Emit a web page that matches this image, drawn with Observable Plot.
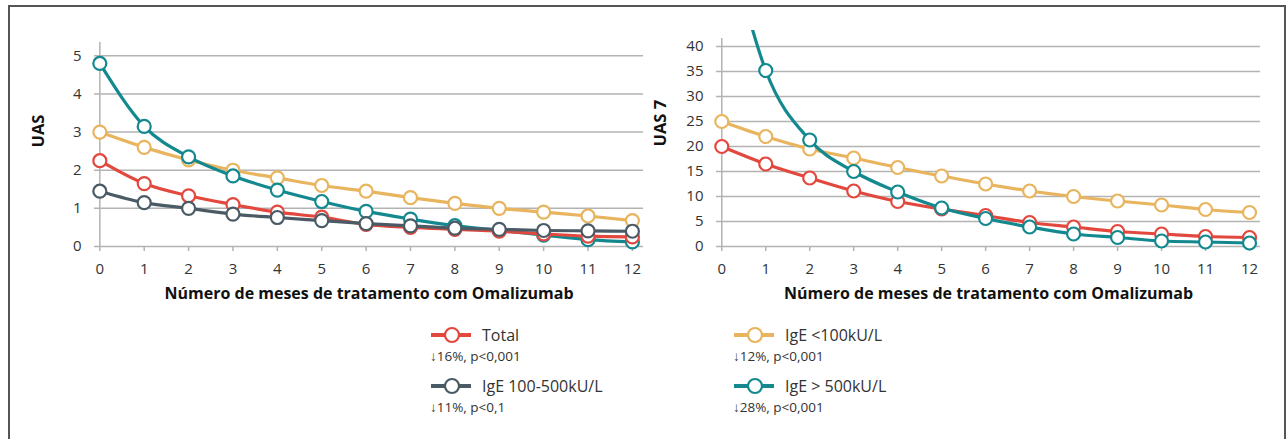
<!DOCTYPE html>
<html><head><meta charset="utf-8">
<script src="https://cdn.jsdelivr.net/npm/d3@7"></script>
<script src="https://cdn.jsdelivr.net/npm/@observablehq/plot@0.6"></script>
<style>
body{margin:0;background:#fff;font-family:"Open Sans",sans-serif;}
#wrap{position:relative;width:1288px;height:439px;overflow:hidden;background:#fff;}
#frame{position:absolute;left:8px;top:5px;width:1278px;height:470px;border:2px solid #555;box-sizing:border-box;}
#left{position:absolute;left:0;top:0}
#right{position:absolute;left:640px;top:0}
.item{position:absolute;display:flex;align-items:center;font-size:16px;color:#333;white-space:nowrap}
.item svg{margin-right:10px}
.stat{position:absolute;font-size:13.5px;color:#333;white-space:nowrap}
</style></head>
<body>
<div id="wrap">
  <div id="frame"></div>
  <div id="left"></div>
  <div id="right"></div>
  <div id="legend"></div>
</div>
<script>
// ---- data ----
const months = [0,1,2,3,4,5,6,7,8,9,10,11,12];
const seriesNames = ["Total", "IgE <100kU/L", "IgE 100-500kU/L", "IgE > 500kU/L"];
const seriesColors = ["#e2483e", "#e8b45e", "#4b5b66", "#13898f"];
const seriesStats = ["↓16%, p<0,001", "↓12%, p<0,001", "↓11%, p<0,1", "↓28%, p<0,001"];

// UAS (left chart)
const uasTotal = [2.25,1.65,1.33,1.1,0.9,0.77,0.58,0.5,0.45,0.4,0.33,0.27,0.25];
const uasLow   = [3.0,2.6,2.27,2.0,1.8,1.6,1.45,1.28,1.13,1.0,0.9,0.8,0.68];
const uasMid   = [1.45,1.15,1.0,0.85,0.76,0.68,0.6,0.54,0.48,0.45,0.42,0.41,0.4];
const uasHigh  = [4.8,3.15,2.35,1.85,1.48,1.18,0.92,0.72,0.55,0.42,0.3,0.18,0.12];

// UAS 7 (right chart)
const uas7Total = [20,16.5,13.7,11.1,9.0,7.5,6.2,4.8,3.9,3.0,2.5,2.0,1.8];
const uas7Low   = [25,22,19.5,17.7,15.8,14.1,12.5,11.1,10.0,9.1,8.3,7.4,6.8];
const uas7High  = [68,35.2,21.3,15.0,10.9,7.7,5.6,3.9,2.5,1.8,1.1,0.9,0.7];

const yTicksL = [0,1,2,3,4,5];
const yTicksR = [0,5,10,15,20,25,30,35,40];
const yLabelL = "UAS";
const yLabelR = "UAS 7";
const xLabel = "Número de meses de tratamento com Omalizumab";

function toRows(vals, s) { return vals.map((v,i)=>({month: months[i], value: v, series: s})); }

const leftSeries = [ // draw order
  toRows(uasLow, 1), toRows(uasHigh, 3), toRows(uasTotal, 0), toRows(uasMid, 2)
];
const rightSeries = [
  toRows(uas7Low, 1), toRows(uas7Total, 0), toRows(uas7High, 3)
];

const grid = "#b3b3b3";

function seriesMarks(list, clip, yMax) {
  const marks = [];
  for (const rows of list) {
    const c = seriesColors[rows[0].series];
    marks.push(Plot.line(rows, {x: "month", y: "value", stroke: c, strokeWidth: 3.2, curve: "monotone-x", clip}));
    marks.push(Plot.dot(rows.filter(d => d.value <= yMax), {x: "month", y: "value", r: 6.5, fill: "white", stroke: c, strokeWidth: 2.2}));
  }
  return marks;
}

function makeChart(opts) {
  return Plot.plot({
    width: opts.width, height: 310,
    marginLeft: opts.ml, marginRight: opts.mr, marginTop: opts.mt, marginBottom: 64,
    x: {domain: [-0.12, 12.25]},
    y: {domain: opts.ydomain},
    style: {fontFamily: "'Open Sans', sans-serif", fontSize: "15px", color: "#333", background: "transparent"},
    marks: [
      Plot.ruleY(opts.yticks, {stroke: grid, strokeWidth: 1.5}),
      Plot.ruleX([0], {stroke: grid, strokeWidth: 1.5, y1: () => 0, y2: () => opts.axisTop}),
      Plot.axisY({ticks: opts.yticks, tickFormat: d3.format("d"), tickSize: 0, tickPadding: 13, label: null, fontSize: 15}),
      Plot.axisX({ticks: months, tickFormat: d3.format("d"), tickSize: 5, tickPadding: 12, label: null, stroke: grid, strokeWidth: 1.5, fill: "#333", fontSize: 15}),
      ...seriesMarks(opts.series, opts.clip, opts.ydomain[1]),
      Plot.text([xLabel], {frameAnchor: "bottom", dy: 52, fontWeight: "bold", fontSize: 16, fill: "#111"}),
      Plot.text([opts.ylabel], {frameAnchor: "left", dx: -56, dy: opts.ldy, rotate: -90, fontWeight: "bold", fontSize: 16.5, fill: "#111"})
    ]
  });
}

document.getElementById("left").append(makeChart({
  width: 650, ml: 94, mr: 7, mt: 42, ydomain: [0, 5.35], axisTop: 5.35,
  yticks: yTicksL, series: leftSeries, clip: false, ylabel: yLabelL, ldy: 3
}));
document.getElementById("right").append(makeChart({
  width: 648, ml: 76, mr: 28, mt: 30, ydomain: [0, 43.2], axisTop: 41.6,
  yticks: yTicksR, series: rightSeries, clip: true, ylabel: yLabelR, ldy: 8
}));

// ---- legend ----
const legendPos = [ // [x, y] for item, per series index
  [430, 335], [733, 335], [430, 386], [733, 386]
];
const legend = document.getElementById("legend");
seriesNames.forEach((name, i) => {
  const [x, y] = legendPos[i];
  const item = document.createElement("div");
  item.className = "item";
  item.style.left = x + "px";
  item.style.top = (y - 11) + "px";
  const c = seriesColors[i];
  item.innerHTML = `<svg width="42" height="22"><line x1="1" y1="11" x2="41" y2="11" stroke="${c}" stroke-width="4"/><circle cx="22" cy="11" r="7" fill="white" stroke="${c}" stroke-width="2.2"/></svg><span>${name}</span>`;
  legend.append(item);
  const st = document.createElement("div");
  st.className = "stat";
  st.style.left = x + "px";
  st.style.top = (y + 12) + "px";
  st.textContent = seriesStats[i];
  legend.append(st);
});
</script>
</body></html>
